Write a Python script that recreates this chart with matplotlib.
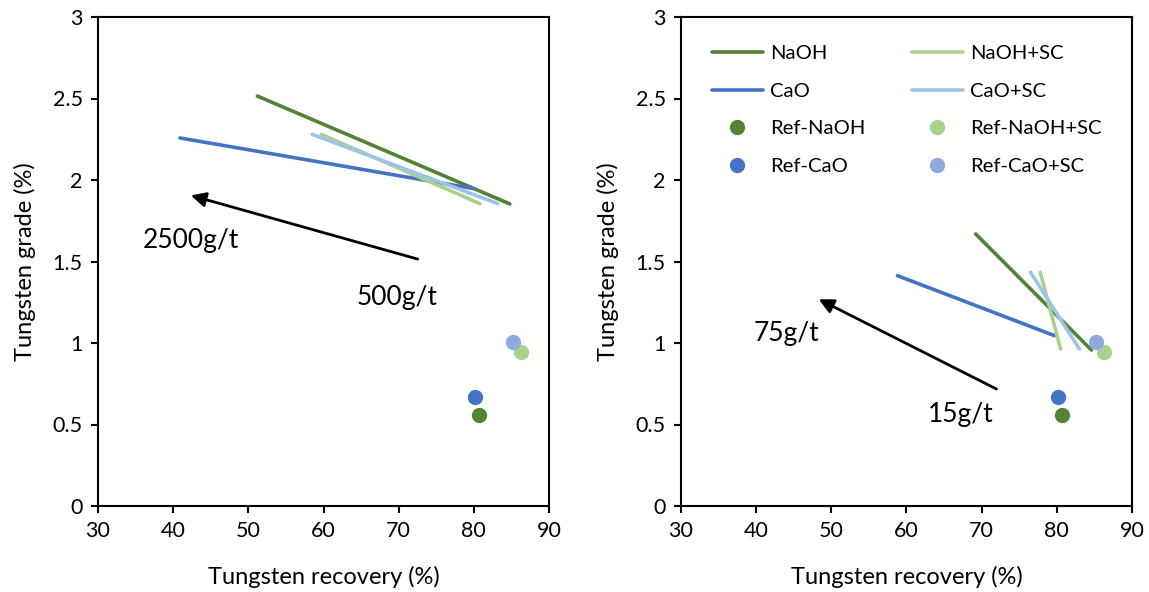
import matplotlib as mpl
mpl.use('Agg')
import matplotlib.pyplot as plt

plt.rcParams['font.family'] = ['Lato', 'DejaVu Sans']

# series: recovery (%) and grade (%) at start / end of each line
names = ["NaOH", "CaO", "NaOH+SC", "CaO+SC"]
colors = ["#548235", "#4472C4", "#A9D18E", "#9DC3E6"]

left_x = [[51.2, 84.8], [40.9, 80.0], [59.7, 80.8], [58.5, 83.2]]
left_y = [[2.515, 1.853], [2.258, 1.947], [2.28, 1.855], [2.28, 1.855]]

right_x = [[69.2, 84.6], [58.8, 79.7], [77.8, 80.5], [76.5, 83.0]]
right_y = [[1.669, 0.957], [1.413, 1.045], [1.434, 0.963], [1.434, 0.963]]

# reference points
ref_names = ["Ref-NaOH", "Ref-CaO", "Ref-NaOH+SC", "Ref-CaO+SC"]
ref_colors = ["#548235", "#4472C4", "#A9D18E", "#8FAADC"]
ref_x = [80.7, 80.1, 86.3, 85.2]
ref_y = [0.558, 0.669, 0.945, 1.004]

# arrows (tail, head) and dose labels
left_arrow = [(72.9, 1.51), (42.0, 1.91)]
left_labels = [("2500g/t", 42.3, 1.63), ("500g/t", 69.8, 1.28)]
right_arrow = [(72.3, 0.71), (48.0, 1.276)]
right_labels = [("75g/t", 44.0, 1.06), ("15g/t", 67.2, 0.56)]

fig = plt.figure(figsize=(11.49, 5.92), dpi=100)
ax1 = fig.add_axes([98/1149, 86/592, 451/1149, 489/592])
ax2 = fig.add_axes([681/1149, 86/592, 451/1149, 489/592])


def draw(ax, xs, ys, arrow, labels):
    handles = {}
    for n, c, x, y in zip(names, colors, xs, ys):
        h, = ax.plot(x, y, color=c, lw=2.6, solid_capstyle='round', label=n)
        handles[n] = h
    for n, c, x, y in zip(ref_names, ref_colors, ref_x, ref_y):
        h, = ax.plot([x], [y], 'o', color=c, ms=11, mec='none', label=n)
        handles[n] = h
    ax.annotate('', xy=arrow[1], xytext=arrow[0],
                arrowprops=dict(arrowstyle='-|>', color='black', lw=2,
                                mutation_scale=22))
    for t, x, y in labels:
        ax.text(x, y, t, fontsize=19, ha='center', va='center')
    ax.set_xlim(30, 90)
    ax.set_ylim(0, 3)
    ax.set_xticks(range(30, 91, 10))
    ax.set_yticks([0, 0.5, 1, 1.5, 2, 2.5, 3])
    ax.set_yticklabels(['0', '0.5', '1', '1.5', '2', '2.5', '3'])
    ax.tick_params(labelsize=15.5, length=5, width=1.5, direction='out', pad=6)
    for s in ax.spines.values():
        s.set_linewidth(1.5)
    ax.set_xlabel('Tungsten recovery (%)', fontsize=17, labelpad=18)
    ax.set_ylabel('Tungsten grade (%)', fontsize=17, labelpad=12)
    return handles


draw(ax1, left_x, left_y, left_arrow, left_labels)
hd = draw(ax2, right_x, right_y, right_arrow, right_labels)

order = ["NaOH", "CaO", "Ref-NaOH", "Ref-CaO",
         "NaOH+SC", "CaO+SC", "Ref-NaOH+SC", "Ref-CaO+SC"]
ax2.legend([hd[k] for k in order], order, ncol=2, frameon=False,
           loc='upper left', bbox_to_anchor=(0.051, 0.959), borderaxespad=0,
           fontsize=14.6, handlelength=2.5, handletextpad=0.35,
           labelspacing=1.0, columnspacing=2.3)

fig.savefig('out.png', dpi=100)
